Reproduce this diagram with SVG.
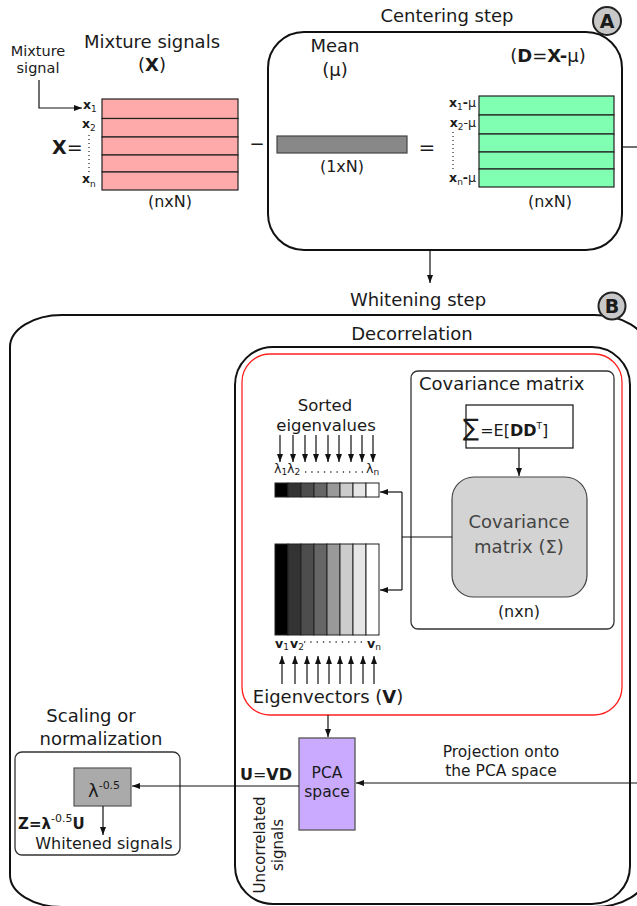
<svg xmlns="http://www.w3.org/2000/svg" width="637" height="906" viewBox="0 0 637 906">
<style>
text{font-family:"DejaVu Sans","Verdana",sans-serif;fill:#1a1a1a}
.t18{font-size:18px}
.t16{font-size:16px}
.t15{font-size:15px}
.c{text-anchor:middle}
.e{text-anchor:end}
.b{font-weight:bold}
.lbl{font-size:12.5px}
.sub{font-size:9px;font-weight:normal}
.box{fill:none;stroke:#111;stroke-width:2}
.row{stroke:#222;stroke-width:1.2}
.cell{stroke:#222;stroke-width:1}
.ln{fill:none;stroke:#111;stroke-width:1.2}
.dot{fill:none;stroke:#222;stroke-width:1.2;stroke-dasharray:1 3}
.dots{fill:none;stroke:#333;stroke-width:1.3;stroke-dasharray:1.3 5}
.badge{fill:#c8c8c8;stroke:#222;stroke-width:2}
</style>
<defs>
<marker id="ah" viewBox="0 0 8 6" refX="8" refY="3" markerWidth="8" markerHeight="6" markerUnits="userSpaceOnUse" orient="auto">
<path d="M0,0 L8,3 L0,6 z" fill="#111"/>
</marker>
</defs>
<rect width="637" height="906" fill="#fff"/>

<!-- Mixture signals -->
<g id="mixture">
<text class="c" x="38" y="56" style="font-size:14.5px">Mixture</text>
<text class="c" x="38" y="73" style="font-size:14.5px">signal</text>
<text class="t18 c" x="152" y="48">Mixture signals</text>
<text class="t18 c" x="152" y="71">(<tspan class="b">X</tspan>)</text>
<rect class="row" x="102" y="99" width="136" height="19.5" fill="#ffaaaa"/>
<rect class="row" x="102" y="118.5" width="136" height="18.5" fill="#ffaaaa"/>
<rect class="row" x="102" y="137" width="136" height="18" fill="#ffaaaa"/>
<rect class="row" x="102" y="155" width="136" height="17" fill="#ffaaaa"/>
<rect class="row" x="102" y="172" width="136" height="18" fill="#ffaaaa"/>
<text class="lbl" x="83" y="109"><tspan class="b">x</tspan><tspan class="sub" dy="3">1</tspan></text>
<text class="lbl" x="82" y="128"><tspan class="b">x</tspan><tspan class="sub" dy="3">2</tspan></text>
<line class="dot" x1="89" y1="135" x2="89" y2="175"/>
<text class="lbl" x="82" y="183"><tspan class="b">x</tspan><tspan class="sub" dy="4">n</tspan></text>
<text x="52" y="154" style="font-size:19px"><tspan class="b">X</tspan>=</text>
<text class="t16 c" x="170" y="207">(nxN)</text>
<text class="t18 c" x="257" y="150">−</text>
</g>

<!-- Centering step -->
<g id="centering">
<text class="t18 c" x="447" y="22">Centering step</text>
<rect class="box" x="268" y="32" width="354" height="218" rx="36" ry="36" fill="#fff"/>
<text class="t18 c" x="335" y="52">Mean</text>
<text class="t18 c" x="335" y="76">(μ)</text>
<rect x="277" y="136" width="130" height="17" fill="#888" stroke="#444" stroke-width="1.2"/>
<text class="t16 c" x="342" y="172">(1xN)</text>
<text class="c" x="427" y="154" style="font-size:20px">=</text>
<text class="t18 c" x="548" y="62">(<tspan class="b">D</tspan>=<tspan class="b">X-</tspan>μ)</text>
<rect class="row" x="479" y="96" width="135" height="19" fill="#80ffb3"/>
<rect class="row" x="479" y="115" width="135" height="19" fill="#80ffb3"/>
<rect class="row" x="479" y="134" width="135" height="18" fill="#80ffb3"/>
<rect class="row" x="479" y="152" width="135" height="17" fill="#80ffb3"/>
<rect class="row" x="479" y="169" width="135" height="18" fill="#80ffb3"/>
<text class="lbl e" x="476" y="107"><tspan class="b">x</tspan><tspan class="sub" dy="3">1</tspan><tspan dy="-3" class="b">-</tspan>μ</text>
<text class="lbl e" x="476" y="127"><tspan class="b">x</tspan><tspan class="sub" dy="3">2</tspan><tspan dy="-3">-</tspan>μ</text>
<line class="dot" x1="453" y1="132" x2="453" y2="171"/>
<text class="lbl e" x="476" y="182"><tspan class="b">x</tspan><tspan class="sub" dy="3">n</tspan><tspan dy="-3" class="b">-</tspan>μ</text>
<text class="t16 c" x="550" y="207">(nxN)</text>
<circle class="badge" cx="607" cy="21" r="14"/>
<text class="c b" x="607" y="28" style="font-size:19px">A</text>
</g>

<!-- Whitening step -->
<g id="whitening">
<text class="t18 c" x="418" y="306">Whitening step</text>
<rect class="box" x="10" y="315" width="636" height="592" rx="52" ry="32" fill="none"/>
<circle class="badge" cx="612" cy="306" r="13.5"/>
<text class="c b" x="612" y="313" style="font-size:19px">B</text>
</g>

<!-- Decorrelation -->
<g id="decorrelation">
<text class="t18 c" x="412" y="340">Decorrelation</text>
<rect class="box" x="235" y="347" width="395" height="557" rx="38" ry="38"/>
<rect x="242" y="354" width="380" height="361" rx="28" ry="28" fill="none" stroke="#ff2020" stroke-width="1.3"/>
</g>

<!-- Covariance matrix -->
<g id="covariance">
<rect x="411" y="371" width="203" height="258" rx="7" ry="7" fill="none" stroke="#333" stroke-width="1.3"/>
<text class="t18" x="419" y="390">Covariance matrix</text>
<rect x="466" y="405" width="107" height="43" fill="#fff" stroke="#222" stroke-width="1.3"/>
<text x="463" y="436" style="font-size:16px"><tspan style="font-size:24px">∑</tspan><tspan dx="1">=E[</tspan><tspan class="b">DD</tspan><tspan dy="-7" style="font-size:9px">T</tspan><tspan dy="7">]</tspan></text>
<rect x="452" y="477" width="135" height="120" rx="22" ry="22" fill="#d3d3d3" stroke="#444" stroke-width="1.2"/>
<text class="t18 c" x="519" y="528" style="fill:#444">Covariance</text>
<text class="t18 c" x="519" y="553" style="fill:#444">matrix (Σ)</text>
<text class="t16 c" x="519" y="617">(nxn)</text>
</g>

<!-- Sorted eigenvalues -->
<g id="eigenvalues">
<text class="c" x="325" y="411" style="font-size:16.5px">Sorted</text>
<text class="c" x="326" y="431" style="font-size:16.5px">eigenvalues</text>
<text class="lbl" x="274" y="473">λ<tspan class="sub" dy="2">1</tspan></text>
<text class="lbl" x="287" y="473">λ<tspan class="sub" dy="2">2</tspan></text>
<line class="dots" x1="305" y1="472" x2="364" y2="472"/>
<text class="lbl" x="366" y="473">λ<tspan class="sub" dy="2">n</tspan></text>
<rect class="cell" x="275" y="483" width="13" height="14" fill="#000"/>
<rect class="cell" x="288" y="483" width="13" height="14" fill="#333"/>
<rect class="cell" x="301" y="483" width="13" height="14" fill="#4d4d4d"/>
<rect class="cell" x="314" y="483" width="13" height="14" fill="#666"/>
<rect class="cell" x="327" y="483" width="13" height="14" fill="#999"/>
<rect class="cell" x="340" y="483" width="13" height="14" fill="#ccc"/>
<rect class="cell" x="353" y="483" width="13" height="14" fill="#e6e6e6"/>
<rect class="cell" x="366" y="483" width="13" height="14" fill="#fff"/>
</g>

<!-- Eigenvectors -->
<g id="eigenvectors">
<rect class="cell" x="275" y="544" width="13" height="91" fill="#000"/>
<rect class="cell" x="288" y="544" width="13" height="91" fill="#333"/>
<rect class="cell" x="301" y="544" width="13" height="91" fill="#4d4d4d"/>
<rect class="cell" x="314" y="544" width="13" height="91" fill="#666"/>
<rect class="cell" x="327" y="544" width="13" height="91" fill="#999"/>
<rect class="cell" x="340" y="544" width="13" height="91" fill="#ccc"/>
<rect class="cell" x="353" y="544" width="13" height="91" fill="#e6e6e6"/>
<rect class="cell" x="366" y="544" width="13" height="91" fill="#fff"/>
<text class="lbl" x="275" y="648"><tspan class="b">v</tspan><tspan class="sub" dy="2">1</tspan></text>
<text class="lbl" x="290" y="648"><tspan class="b">v</tspan><tspan class="sub" dy="2">2</tspan></text>
<line class="dots" x1="304" y1="642" x2="363" y2="642"/>
<text class="lbl" x="367" y="648"><tspan class="b">v</tspan><tspan class="sub" dy="2">n</tspan></text>
<text class="t18 c" x="328" y="703">Eigenvectors (<tspan class="b">V</tspan>)</text>
</g>

<!-- PCA space -->
<g id="pca">
<rect x="299" y="738" width="56" height="92" fill="#c9aaff" stroke="#555" stroke-width="1.3"/>
<text class="c" x="327" y="778" style="font-size:15.5px">PCA</text>
<text class="c" x="327" y="797" style="font-size:15.5px">space</text>
<text class="c" x="501" y="757" style="font-size:15.5px">Projection onto</text>
<text class="c" x="501" y="776" style="font-size:15.5px">the PCA space</text>
<text class="t16 e b" x="292" y="780">U<tspan font-weight="normal">=</tspan>VD</text>
<text class="c" transform="translate(265,845) rotate(-90)" style="font-size:15px">Uncorrelated</text>
<text class="c" transform="translate(283,845) rotate(-90)" style="font-size:15px">signals</text>
</g>

<!-- Scaling or normalization -->
<g id="scaling">
<text class="t18 c" x="91" y="722">Scaling or</text>
<text class="t18 c" x="101" y="745">normalization</text>
<rect x="15" y="752" width="165" height="103" rx="7" ry="7" fill="none" stroke="#333" stroke-width="1.3"/>
<rect x="74" y="768" width="57" height="38" fill="#aaa" stroke="#555" stroke-width="1.2"/>
<text x="88" y="797" style="font-size:18px">λ<tspan dy="-8" style="font-size:11px">-0.5</tspan></text>
<text class="b" x="18" y="829" style="font-size:15px">Z=λ<tspan dy="-7" style="font-size:11px;font-weight:normal">-0.5</tspan><tspan dy="7">U</tspan></text>
<text class="t16 c" x="104" y="849">Whitened signals</text>
</g>

<!-- Connectors -->
<g id="connectors">
<path class="ln" d="M39,80 V108 H82" marker-end="url(#ah)"/>
<path class="ln" d="M622,147 H637"/>
<path class="ln" d="M430,250 V283" marker-end="url(#ah)"/>
<path class="ln" d="M519,448 V476" marker-end="url(#ah)"/>
<path class="ln" d="M452,537 H402"/>
<path class="ln" d="M402,492 V590"/>
<path class="ln" d="M402,492 H380" marker-end="url(#ah)"/>
<path class="ln" d="M402,590 H380" marker-end="url(#ah)"/>
<path class="ln" d="M280,435 V462" marker-end="url(#ah)"/>
<path class="ln" d="M293,435 V462" marker-end="url(#ah)"/>
<path class="ln" d="M305,435 V462" marker-end="url(#ah)"/>
<path class="ln" d="M316,435 V462" marker-end="url(#ah)"/>
<path class="ln" d="M328,435 V462" marker-end="url(#ah)"/>
<path class="ln" d="M339,435 V462" marker-end="url(#ah)"/>
<path class="ln" d="M351,435 V462" marker-end="url(#ah)"/>
<path class="ln" d="M362,435 V462" marker-end="url(#ah)"/>
<path class="ln" d="M373,435 V462" marker-end="url(#ah)"/>
<path class="ln" d="M282,684 V656" marker-end="url(#ah)"/>
<path class="ln" d="M295,684 V656" marker-end="url(#ah)"/>
<path class="ln" d="M307,684 V656" marker-end="url(#ah)"/>
<path class="ln" d="M318,684 V656" marker-end="url(#ah)"/>
<path class="ln" d="M329,684 V656" marker-end="url(#ah)"/>
<path class="ln" d="M340,684 V656" marker-end="url(#ah)"/>
<path class="ln" d="M351,684 V656" marker-end="url(#ah)"/>
<path class="ln" d="M363,684 V656" marker-end="url(#ah)"/>
<path class="ln" d="M374,684 V656" marker-end="url(#ah)"/>
<path class="ln" d="M328,715 V737" marker-end="url(#ah)"/>
<path class="ln" d="M637,783 H356" marker-end="url(#ah)"/>
<path class="ln" d="M299,786 H132" marker-end="url(#ah)"/>
<path class="ln" d="M103,806 V835" marker-end="url(#ah)"/>
</g>
</svg>
